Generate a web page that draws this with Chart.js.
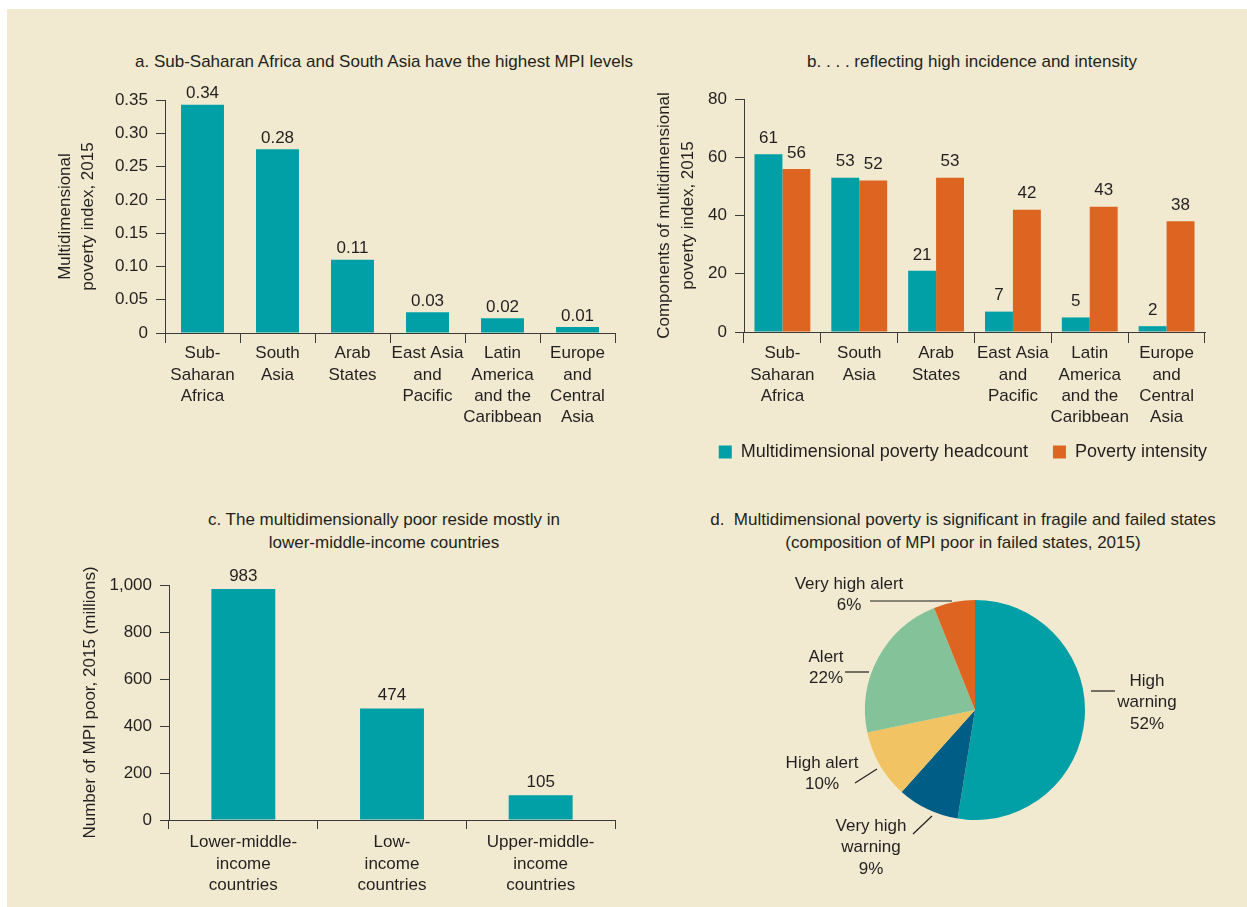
<!DOCTYPE html>
<html><head><meta charset="utf-8">
<script src="https://cdn.jsdelivr.net/npm/chart.js@4.4.1/dist/chart.umd.min.js"></script>
<style>
html,body{margin:0;padding:0;background:#fff;width:1247px;height:907px;overflow:hidden;}
#page{position:absolute;left:7px;top:9px;width:1240px;height:898px;background:#F1EAD0;}
canvas{position:absolute;}
.t{position:absolute;font-family:'Liberation Sans',Arial,sans-serif;font-size:17px;color:#231F20;text-align:center;line-height:23px;white-space:nowrap;transform:translateX(-50%);}
</style></head><body>
<div id="page"></div>
<div class="t" style="left:384px;top:50px">a. Sub-Saharan Africa and South Asia have the highest MPI levels</div>
<div class="t" style="left:972px;top:50px">b. . . . reflecting high incidence and intensity</div>
<div class="t" style="left:384px;top:508px">c. The multidimensionally poor reside mostly in<br>lower-middle-income countries</div>
<div class="t" style="left:963px;top:508px">d.&nbsp; Multidimensional poverty is significant in fragile and failed states<br>(composition of MPI poor in failed states, 2015)</div>
<canvas id="ca" width="640" height="440" style="left:0px;top:0px"></canvas>
<canvas id="cb" width="627" height="471" style="left:620px;top:0px"></canvas>
<canvas id="cc" width="640" height="427" style="left:0px;top:480px"></canvas>
<canvas id="cd" width="607" height="427" style="left:640px;top:480px"></canvas>
<script>
// ---------- data ----------
const regions = [['Sub-','Saharan','Africa'],['South','Asia'],['Arab','States'],['East Asia','and','Pacific'],['Latin','America','and the','Caribbean'],['Europe','and','Central','Asia']];
const mpiValues = [0.343, 0.276, 0.11, 0.031, 0.022, 0.009];
const headcount = [61, 53, 21, 7, 5, 2];
const intensity = [56, 52, 53, 42, 43, 38];
const seriesNames = ['Multidimensional poverty headcount', 'Poverty intensity'];
const incomeGroups = [['Lower-middle-','income','countries'],['Low-','income','countries'],['Upper-middle-','income','countries']];
const mpiPoor = [983, 474, 105];
const alertLevels = [['High','warning'],['Very high','warning'],['High alert'],['Alert'],['Very high alert']];
const alertShares = [52, 9, 10, 22, 6];
const titleA = ['Multidimensional','poverty index, 2015'];
const titleB = ['Components of multidimensional','poverty index, 2015'];
const titleC = 'Number of MPI poor, 2015 (millions)';

// ---------- styles ----------
const FONT = "'Liberation Sans', Arial, sans-serif";
const INK = '#231F20';
const AXIS = '#3a3a3a';
const TEAL = '#00A0A6';
const ORANGE = '#DE6421';
const PIE_COLORS = [TEAL, '#005D85', '#F1C362', '#84C29A', ORANGE];

Chart.defaults.font.family = FONT;
Chart.defaults.font.size = 17;
Chart.defaults.color = INK;
Chart.defaults.animation = false;
Chart.defaults.responsive = false;
Chart.defaults.devicePixelRatio = 1;
Chart.defaults.events = [];
Chart.defaults.plugins.tooltip.enabled = false;

function makeBarLabels(offset, fmt) {
  return {
    id: 'barLabels',
    afterDatasetsDraw(chart) {
      const ctx = chart.ctx;
      ctx.save();
      ctx.font = '17px ' + FONT;
      ctx.fillStyle = INK;
      ctx.textAlign = 'center';
      ctx.textBaseline = 'middle';
      chart.data.datasets.forEach((ds, i) => {
        chart.getDatasetMeta(i).data.forEach((bar, j) => {
          ctx.fillText(fmt(ds.data[j]), bar.x, bar.y - offset);
        });
      });
      ctx.restore();
    }
  };
}

function yAxis(min, max, step, width, title, titlePad, lh, fmt) {
  return {
    min, max,
    ticks: { stepSize: step, padding: 8, color: INK, font: { size: 17 }, callback: fmt },
    grid: { drawOnChartArea: false, drawTicks: true, tickLength: 9, color: AXIS, lineWidth: 1 },
    border: { display: true, color: AXIS, width: 1 },
    title: { display: true, text: title, color: INK, font: { size: 17, lineHeight: lh / 17 }, padding: { top: titlePad, bottom: 0 } },
    afterFit(s) { s.width = width; }
  };
}
function xAxis(height, tickLen, pad) {
  return {
    ticks: { padding: pad, color: INK, font: { size: 17, lineHeight: 1.25 }, maxRotation: 0, autoSkip: false },
    grid: { drawOnChartArea: false, drawTicks: true, tickLength: tickLen, color: AXIS, lineWidth: 1, offset: true },
    border: { display: true, color: AXIS, width: 1 },
    afterFit(s) { s.height = height; }
  };
}

// ---------- panel a ----------
new Chart(document.getElementById('ca'), {
  type: 'bar',
  data: { labels: regions, datasets: [{ data: mpiValues, backgroundColor: TEAL, borderWidth: 0, categoryPercentage: 1, barPercentage: 0.573 }] },
  options: {
    layout: { padding: { left: 30, top: 100, right: 25, bottom: 7 } },
    plugins: { legend: { display: false } },
    scales: {
      x: xAxis(100, 10, 0),
      y: yAxis(0, 0.35, 0.05, 135, titleA, 23.5, 23, v => v === 0 ? '0' : v.toFixed(2))
    }
  },
  plugins: [makeBarLabels(11, v => v.toFixed(2))]
});

// ---------- panel b ----------
// lets the 4-line category labels run past the axis box into the legend band
const labelRoom = { id: 'labelRoom', afterLayout(chart) { const s = chart.scales.x; s.bottom = s.top + 100; } };
new Chart(document.getElementById('cb'), {
  type: 'bar',
  data: { labels: regions, datasets: [
    { label: seriesNames[0], data: headcount, backgroundColor: TEAL, borderWidth: 0, categoryPercentage: 0.727, barPercentage: 1 },
    { label: seriesNames[1], data: intensity, backgroundColor: ORANGE, borderWidth: 0, categoryPercentage: 0.727, barPercentage: 1 }
  ] },
  options: {
    layout: { padding: { left: 20, top: 99, right: 15, bottom: 0 } },
    plugins: { legend: { display: true, position: 'bottom', align: 'end',
      labels: { boxWidth: 13, boxHeight: 13, padding: 25, color: INK, font: { size: 18 } } } },
    scales: {
      x: xAxis(86, 11, 0),
      y: yAxis(0, 80, 20, 104, titleB, 12, 24, v => String(v)),
      spacer: { type: 'linear', position: 'right', display: true, min: 0, max: 1,
        ticks: { display: false }, grid: { display: false, drawTicks: false }, border: { display: false },
        afterFit(s) { s.width = 27; } }
    }
  },
  plugins: [makeBarLabels(16, v => String(v)), labelRoom]
});

// ---------- panel c ----------
new Chart(document.getElementById('cc'), {
  type: 'bar',
  data: { labels: incomeGroups, datasets: [{ data: mpiPoor, backgroundColor: TEAL, borderWidth: 0, categoryPercentage: 1, barPercentage: 0.43 }] },
  options: {
    layout: { padding: { left: 60, top: 105, right: 25, bottom: 7 } },
    plugins: { legend: { display: false } },
    scales: {
      x: xAxis(80, 9, 3),
      y: yAxis(0, 1000, 200, 109, titleC, 18.5, 23, v => v.toLocaleString('en-US'))
    }
  },
  plugins: [makeBarLabels(13, v => String(v))]
});

// ---------- panel d ----------
// annotation placement relative to pie centre (text line centres and leader lines)
const pieNotes = [
  { dx: 172, dy: [-29, -8, 14], line: [116, -19, 140, -19] },
  { dx: -104, dy: [116, 137, 159], line: [-62, 124, -43, 106] },
  { dx: -153, dy: [53, 74], line: [-120, 73, -98, 59] },
  { dx: -149, dy: [-53, -32], line: [-130, -38, -106, -38] },
  { dx: -126, dy: [-126, -105], line: [-105, -109, -23, -109] }
];
const pieLabels = {
  id: 'pieLabels',
  afterDatasetsDraw(chart) {
    const arc0 = chart.getDatasetMeta(0).data[0];
    const cx = arc0.x, cy = arc0.y;
    const ctx = chart.ctx;
    ctx.save();
    ctx.font = '17px ' + FONT;
    ctx.fillStyle = INK;
    ctx.strokeStyle = '#231F20';
    ctx.lineWidth = 1.2;
    ctx.textAlign = 'center';
    ctx.textBaseline = 'middle';
    chart.data.labels.forEach((lab, i) => {
      const n = pieNotes[i];
      const lines = lab.concat([chart.data.datasets[0].data[i] + '%']);
      lines.forEach((t, k) => ctx.fillText(t, cx + n.dx, cy + n.dy[k]));
      ctx.beginPath();
      ctx.moveTo(cx + n.line[0], cy + n.line[1]);
      ctx.lineTo(cx + n.line[2], cy + n.line[3]);
      ctx.stroke();
    });
    ctx.restore();
  }
};
new Chart(document.getElementById('cd'), {
  type: 'pie',
  data: { labels: alertLevels, datasets: [{ data: alertShares, backgroundColor: PIE_COLORS, borderWidth: 0 }] },
  options: {
    layout: { padding: { left: 225, top: 120, right: 162, bottom: 87 } },
    plugins: { legend: { display: false } }
  },
  plugins: [pieLabels]
});
</script>
</body></html>
